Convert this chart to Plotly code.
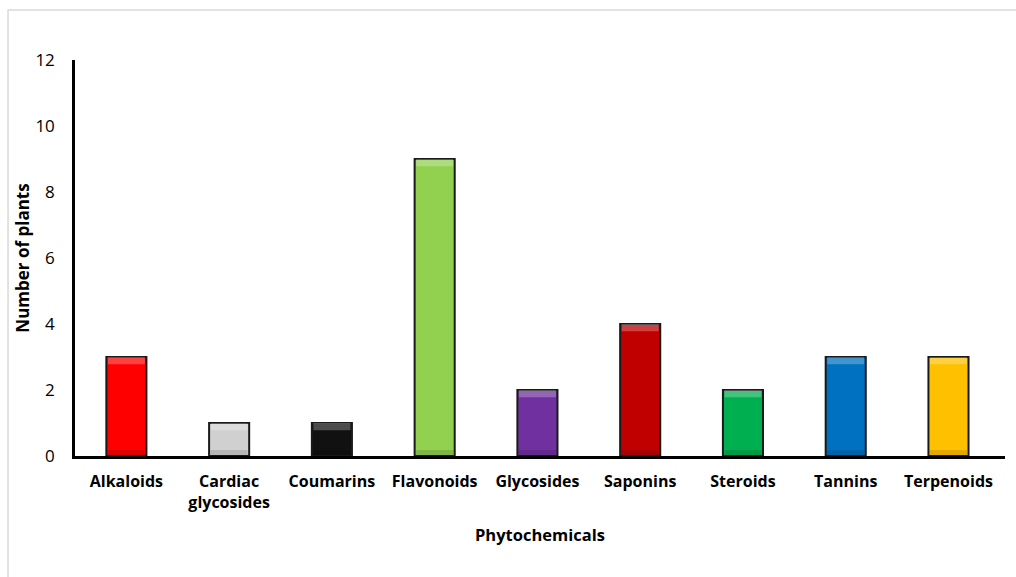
import plotly.graph_objects as go

# Phytochemical classes and number of plants containing each
categories = ["Alkaloids", "Cardiac<br>glycosides", "Coumarins", "Flavonoids",
              "Glycosides", "Saponins", "Steroids", "Tannins", "Terpenoids"]
plant_counts = [3, 1, 1, 9, 2, 4, 2, 3, 3]
bar_colors = ["#FF0000", "#D0D0D0", "#111111", "#92D050", "#7030A0",
              "#C00000", "#00B050", "#0070C0", "#FFC000"]
y_ticks = [0, 2, 4, 6, 8, 10, 12]

FONT = "Open Sans, Carlito, Calibri, sans-serif"
BAR_W = 0.39
TOP_BEVEL = 0.22
BOTTOM_BEVEL = 0.16

fig = go.Figure()
# main bars with dark outline
fig.add_trace(go.Bar(
    x=categories, y=plant_counts, width=BAR_W,
    marker=dict(color=bar_colors, line=dict(color="#1a1a1a", width=2)),
    showlegend=False, hoverinfo="x+y",
))
# bevel: lit top edge and shaded bottom edge
fig.add_trace(go.Bar(
    x=categories,
    y=[TOP_BEVEL] * len(plant_counts),
    base=[v - TOP_BEVEL for v in plant_counts],
    width=BAR_W - 0.03,
    marker=dict(color="rgba(255,255,255,0.25)", line=dict(width=0)),
    showlegend=False, hoverinfo="skip",
))
fig.add_trace(go.Bar(
    x=categories,
    y=[BOTTOM_BEVEL] * len(plant_counts),
    base=[0.02] * len(plant_counts),
    width=BAR_W - 0.03,
    marker=dict(color="rgba(0,0,0,0.12)", line=dict(width=0)),
    showlegend=False, hoverinfo="skip",
))

# light frame around the chart area
fig.add_shape(type="rect", xref="paper", yref="paper",
              x0=-0.072, x1=1.05, y0=-0.4, y1=1.1263,
              line=dict(color="#D9D9D9", width=1.5), fillcolor="rgba(0,0,0,0)",
              layer="below")

fig.update_layout(
    width=1016, height=577,
    margin=dict(l=75, r=11, t=60, b=121),
    paper_bgcolor="white", plot_bgcolor="white",
    font=dict(family=FONT, color="#000000"),
    barmode="overlay",
)
fig.update_xaxes(
    showline=True, linecolor="#000000", linewidth=2.5,
    showgrid=False, ticks="",
    tickfont=dict(family=FONT, size=16, color="#000000", weight="bold"),
    ticklabelstandoff=9,
    title=dict(text="<b>Phytochemicals</b>", font=dict(family=FONT, size=16.5), standoff=18),
    range=[-0.5, 8.55],
)
fig.update_yaxes(
    range=[0, 12], tickvals=y_ticks,
    showline=True, linecolor="#000000", linewidth=2.5,
    showgrid=False, ticks="", zeroline=False,
    tickfont=dict(family=FONT, size=17, color="#000000"),
    ticklabelstandoff=14,
    title=dict(text="<b>Number of plants</b>", font=dict(family=FONT, size=17), standoff=2),
)

fig.write_html("out.html")
